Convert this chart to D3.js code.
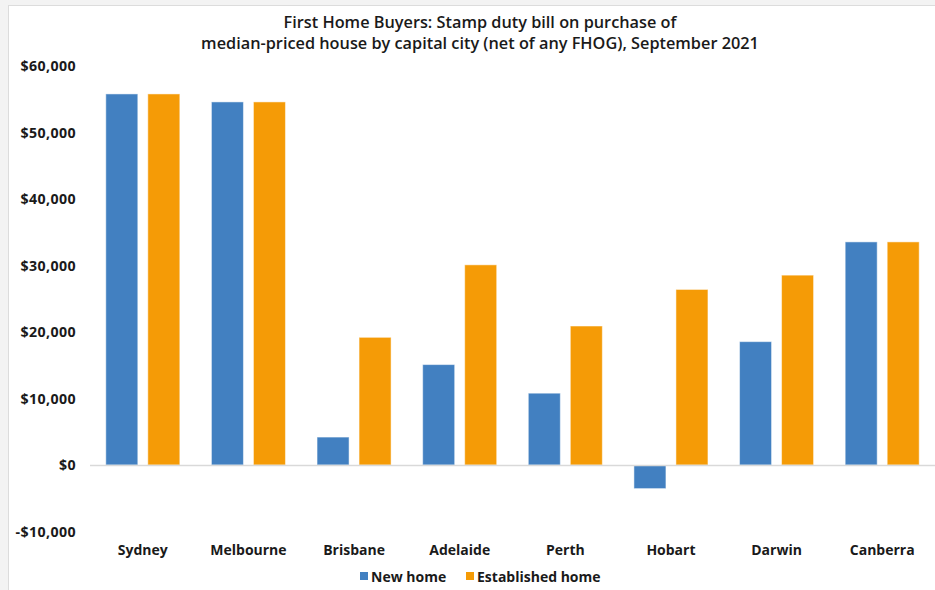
<!DOCTYPE html>
<html><head><meta charset="utf-8">
<script src="https://cdn.jsdelivr.net/npm/d3@7"></script>
<style>html,body{margin:0;padding:0;background:#fff;overflow:hidden}</style>
</head><body>
<svg id="c" width="935" height="590"></svg>
<script>
const cities = ["Sydney","Melbourne","Brisbane","Adelaide","Perth","Hobart","Darwin","Canberra"];
const seriesNames = ["New home","Established home"];
const newHome = [55800, 54600, 4200, 15100, 10800, -3550, 18550, 33550];
const establishedHome = [55800, 54600, 19200, 30100, 20900, 26400, 28550, 33550];
const colors = ["#4280c1","#f59b06"];
const yTicks = [-10000,0,10000,20000,30000,40000,50000,60000];
const titleLines = ["First Home Buyers: Stamp duty bill on purchase of","median-priced house by capital city (net of any FHOG), September 2021"];

const font = "'Open Sans', Lato, sans-serif";
const svg = d3.select("#c");
svg.append("rect").attr("x",0).attr("y",0).attr("width",935).attr("height",590).attr("fill","#fff");
svg.append("rect").attr("x",0).attr("y",0).attr("width",935).attr("height",5).attr("fill","#f3f3f3");
svg.append("rect").attr("x",0).attr("y",0).attr("width",8).attr("height",590).attr("fill","#f3f3f3");
svg.append("line").attr("x1",8.5).attr("x2",8.5).attr("y1",5).attr("y2",590).attr("stroke","#dcdcdc");
svg.append("line").attr("x1",8).attr("x2",935).attr("y1",5.5).attr("y2",5.5).attr("stroke","#dcdcdc");

const y = d3.scaleLinear().domain([-10000,60000]).range([531.5,66]);
const x0 = d3.scaleBand().domain(cities).range([90,935]).paddingInner(0).paddingOuter(0);
const x1 = d3.scaleBand().domain(seriesNames).range([0,x0.bandwidth()]).paddingInner(0.238).paddingOuter(0.376);

// title
svg.append("g").selectAll("text").data(titleLines).join("text")
  .attr("x",480).attr("y",(d,i)=>28+i*21).attr("text-anchor","middle")
  .attr("font-family",font).attr("font-weight",600).attr("font-size",16.3).attr("fill","#1a1a1a").text(d=>d);

// y axis
const yAxis = d3.axisLeft(y).tickValues(yTicks).tickSize(0).tickPadding(0)
  .tickFormat(d => (d<0?"-":"") + "$" + d3.format(",")(Math.abs(d)));
const ga = svg.append("g").attr("transform","translate(76,0)").call(yAxis);
ga.select(".domain").remove();
ga.selectAll("text").attr("font-family",font).attr("font-weight",700).attr("font-size",14.2).attr("letter-spacing",0.4).attr("fill","#1a1a1a").attr("dy","0.35em");

// bars
const data = [];
cities.forEach((c,i)=>{ data.push({c, s:seriesNames[0], v:newHome[i]}); data.push({c, s:seriesNames[1], v:establishedHome[i]}); });
svg.append("g").selectAll("rect").data(data).join("rect")
  .attr("x", d=>x0(d.c)+x1(d.s))
  .attr("width", x1.bandwidth())
  .attr("y", d=>y(Math.max(0,d.v)))
  .attr("height", d=>Math.abs(y(d.v)-y(0)))
  .attr("fill", d=>colors[seriesNames.indexOf(d.s)])
  .attr("stroke","rgba(255,255,255,0.5)").attr("stroke-width",1);

// zero line
svg.append("line").attr("x1",90).attr("x2",935).attr("y1",y(0)+0.5).attr("y2",y(0)+0.5).attr("stroke","#d9d9d9").attr("stroke-width",1.3);

// x labels
const xAxis = d3.axisBottom(x0).tickSize(0).tickPadding(0);
const gx = svg.append("g").attr("transform","translate(0,550)").call(xAxis);
gx.select(".domain").remove();
gx.selectAll("text").attr("font-family",font).attr("font-weight",700).attr("font-size",14).attr("fill","#1a1a1a").attr("dy","0.35em");

// legend
const lg = svg.append("g");
const legX = [360, 466];
seriesNames.forEach((s,i)=>{
  lg.append("rect").attr("x",legX[i]).attr("y",572).attr("width",8).attr("height",8).attr("fill",colors[i]);
  lg.append("text").attr("x",legX[i]+11).attr("y",577).attr("dy","0.35em").attr("font-family",font).attr("font-weight",700).attr("font-size",14).attr("fill","#1a1a1a").text(s);
});
</script>
</body></html>
